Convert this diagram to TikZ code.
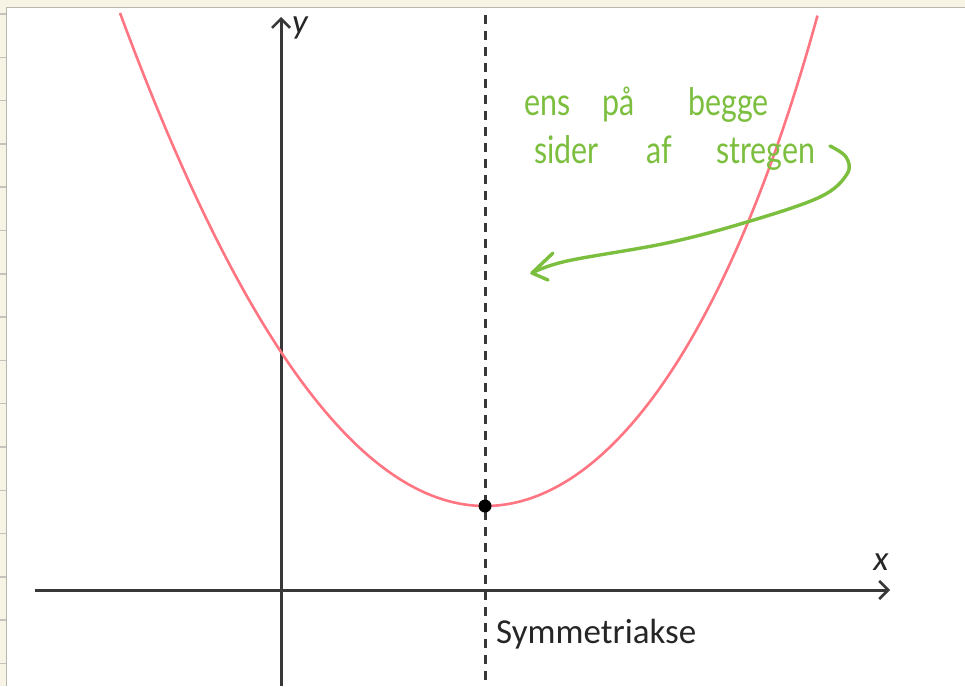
\documentclass[tikz,border=0pt]{standalone}
\usepackage{fontspec}
\usepackage{graphicx}
\setmainfont{Carlito}
\newfontfamily\handfont{Lato}
\usetikzlibrary{arrows.meta}
\definecolor{cream}{HTML}{F7F4E6}
\definecolor{panelborder}{HTML}{B8B8AE}
\definecolor{tickgrey}{HTML}{C4C4BC}
\definecolor{curvered}{HTML}{FF7582}
\definecolor{inkgreen}{HTML}{7CBF3F}
\definecolor{axisgrey}{HTML}{383838}
\newcommand{\handword}[1]{\scalebox{0.8}[1]{#1}}
\tikzset{
  axisline/.style={axisgrey, line width=3pt, -{Straight Barb[length=9pt,width=18pt,line width=2.6pt]}},
  symline/.style={axisgrey, line width=3pt, dash pattern=on 9pt off 7pt},
  curveline/.style={curvered, line width=2.6pt},
  inkline/.style={inkgreen, line width=3.4pt, line cap=round, line join=round},
  labeltext/.style={font=\fontsize{35}{40}\selectfont, text=black!85, inner sep=0pt},
  handtext/.style={font=\handfont\fontsize{38}{42}\selectfont, text=inkgreen, inner sep=0pt, anchor=base west}
}
\begin{document}
\begin{tikzpicture}[x=1pt,y=-1pt]
\useasboundingbox (0,0) rectangle (965,686);
% background panel
\fill[cream] (0,0) rectangle (965,686);
\fill[white] (6.5,7.5) rectangle (965,686);
\foreach \k in {0,...,15} \draw[tickgrey, line width=1.5pt] (0,{14+43.3*\k}) -- (6.5,{14+43.3*\k});
\draw[panelborder, line width=1.3pt] (6.5,686) -- (6.5,7.5) -- (965,7.5);
% axes
\coordinate (xs) at (35,590);
\coordinate (xe) at (890,590);
\coordinate (ys) at (281,686);
\coordinate (ye) at (281,17);
\draw[axisline] (xs) -- (xe);
\draw[axisline] (ys) -- (ye);
\node[labeltext, font=\itshape\fontsize{35}{40}\selectfont] (xl) at (881,562) {x};
\node[labeltext, font=\itshape\fontsize{35}{40}\selectfont] (yl) at (300,28) {y};
% symmetry axis
\coordinate (ss) at (485,15);
\coordinate (se) at (485,686);
\draw[symline] (ss) -- (se);
% parabola
\draw[curveline] plot[domain=120:485, samples=90] (\x,{506-(0.06083*(\x-485))^2})
  -- plot[domain=0:364, samples=90] ({485+\x*(1-(0.000814*\x)^2)},{506-(0.06083*\x)^2});
% vertex
\node[circle, fill=black, inner sep=0pt, minimum size=13pt] (v) at (485,506) {};
\node[labeltext, anchor=base west] (sym) at (496,643) {Symmetriakse};
% handwritten note
\node[handtext] (w1) at (524,115) {\handword{ens}};
\node[handtext] (w2) at (602,115) {\handword{på}};
\node[handtext] (w3) at (688,115) {\handword{begge}};
\node[handtext] (w4) at (534,163) {\handword{sider}};
\node[handtext] (w5) at (646,163) {\handword{af}};
\node[handtext] (w6) at (716,163) {\handword{stregen}};
\coordinate (as) at (830,146);
\coordinate (tip) at (532,273);
\coordinate (bu) at (553,253);
\coordinate (bl) at (548,280);
\draw[inkline] plot[smooth, tension=0.6] coordinates {(as) (846,157) (847,174) (820,197) (747,222) (667,243) (567,261) (tip)};
\draw[inkline] (bu) -- (tip) -- (bl);
\end{tikzpicture}
\end{document}
